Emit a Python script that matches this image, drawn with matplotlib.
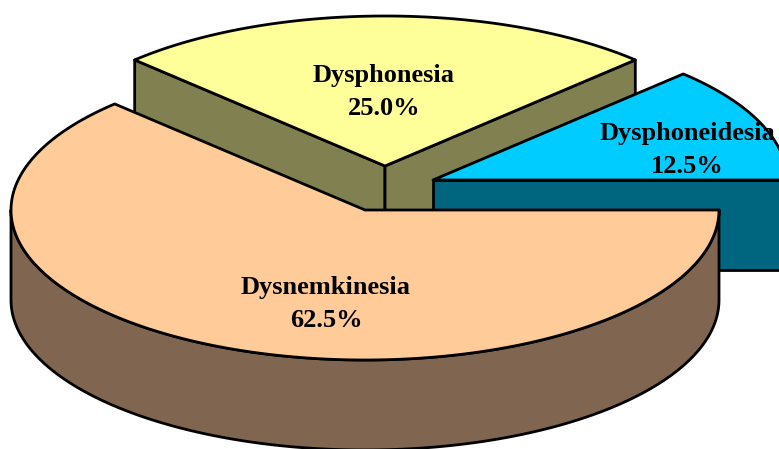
import numpy as np
import matplotlib
matplotlib.use("Agg")
import matplotlib.pyplot as plt
from matplotlib.patches import Polygon

labels = ["Dysnemkinesia", "Dysphonesia", "Dysphoneidesia"]
values = [62.5, 25.0, 12.5]
top_colors = ["#FFCC99", "#FFFF99", "#00CCFF"]
side_colors = ["#806650", "#808050", "#006680"]
centers = [(365, 210), (385, 166), (433, 180)]
label_pos = [(326, 304), (384, 92), (687, 150)]
RX, RY, DEPTH = 354, 150, 90

fig = plt.figure(figsize=(7.79, 4.49), dpi=100)
ax = fig.add_axes([0, 0, 1, 1])
ax.set_xlim(0, 779)
ax.set_ylim(449, 0)
ax.axis("off")

def pt(c, a):
    return (c[0] + RX * np.cos(a), c[1] - RY * np.sin(a))

def arc(c, a0, a1, dz=0):
    t = np.linspace(a0, a1, 200)
    return np.column_stack([c[0] + RX * np.cos(t), c[1] - RY * np.sin(t) + dz])

# the slices run clockwise from east
sweeps = np.radians(np.array(values) / sum(values) * 360)
starts = -np.concatenate([[0], np.cumsum(sweeps)[:-1]])
kw = dict(edgecolor="black", linewidth=2.0, joinstyle="round")

for i in [1, 2, 0]:
    c = centers[i]
    a0 = starts[i]
    a1 = a0 - sweeps[i]
    # cut faces whose outward side looks toward the viewer
    for ang, visible in ((a0, np.cos(a0) < -1e-6), (a1, np.cos(a1) > 1e-6)):
        if visible:
            p = pt(c, ang)
            ax.add_patch(Polygon([c, p, (p[0], p[1] + DEPTH), (c[0], c[1] + DEPTH)],
                                 facecolor=side_colors[i], **kw))
    # outer wall where the rim faces the viewer
    lo, hi = max(a1, -np.pi), min(a0, 0)
    if hi > lo:
        wall = np.vstack([arc(c, lo, hi), arc(c, hi, lo, DEPTH)])
        ax.add_patch(Polygon(wall, facecolor=side_colors[i], **kw))
    # top
    ax.add_patch(Polygon(np.vstack([[c], arc(c, a0, a1)]), facecolor=top_colors[i], **kw))

for lab, v, (x, y) in zip(labels, values, label_pos):
    ax.text(x, y, f"{lab}\n{v:.1f}%", ha="center", va="center", family="Liberation Serif",
            fontweight="bold", fontsize=19, linespacing=1.55, color="black")

fig.savefig("out.png", dpi=100)
